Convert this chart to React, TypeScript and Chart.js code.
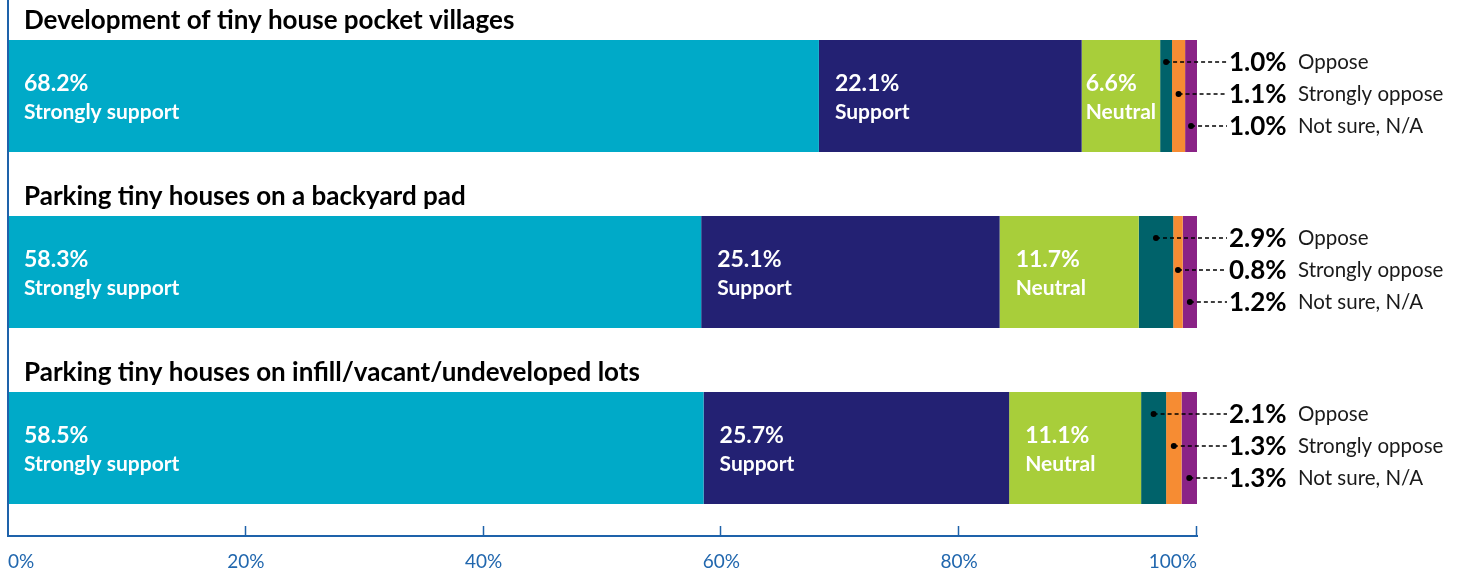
import React, { useEffect, useRef } from "react";
import { Chart, registerables } from "chart.js";

Chart.register(...registerables);

const categories = [
  "Development of tiny house pocket villages",
  "Parking tiny houses on a backyard pad",
  "Parking tiny houses on infill/vacant/undeveloped lots",
];
const seriesNames = ["Strongly support", "Support", "Neutral", "Oppose", "Strongly oppose", "Not sure, N/A"];
const stronglySupport = [68.2, 58.3, 58.5];
const support = [22.1, 25.1, 25.7];
const neutral = [6.6, 11.7, 11.1];
const oppose = [1.0, 2.9, 2.1];
const stronglyOppose = [1.1, 0.8, 1.3];
const notSure = [1.0, 1.2, 1.3];
const xTicks = [0, 20, 40, 60, 80, 100];

const seriesColors = ["#00AAC8", "#232173", "#A8CE3A", "#00626A", "#F68C33", "#8A2386"];
const AXIS = "#1E62AA";
const FONT = "Lato, 'Noto Sans', sans-serif";

const fmt = (v: number) => v.toFixed(1) + "%";

const labelsPlugin = {
  id: "customLabels",
  afterDatasetsDraw(chart: any) {
    const ctx = chart.ctx;
    const area = chart.chartArea;
    const metas = chart.data.datasets.map((_: any, i: number) => chart.getDatasetMeta(i));
    ctx.save();
    // left axis line
    ctx.strokeStyle = AXIS;
    ctx.lineWidth = 2;
    ctx.beginPath();
    ctx.moveTo(area.left, 0);
    ctx.lineTo(area.left, area.bottom);
    ctx.stroke();
    // x tick marks pointing up
    const xs = chart.scales.x;
    ctx.lineWidth = 1.5;
    xTicks.forEach((t) => {
      if (t === 0) return;
      const px = Math.round(xs.getPixelForValue(t)) - 0.5;
      ctx.beginPath();
      ctx.moveTo(px, area.bottom);
      ctx.lineTo(px, area.bottom - 10);
      ctx.stroke();
    });

    categories.forEach((cat, ci) => {
      const first = metas[0].data[ci];
      const top = first.y - first.height / 2;
      // title
      ctx.fillStyle = "#000";
      ctx.font = `bold 26px ${FONT}`;
      ctx.textAlign = "left";
      ctx.textBaseline = "middle";
      ctx.fillText(cat, area.left + 16, top - 19);

      // inside labels (first 3 series)
      for (let s = 0; s < 3; s++) {
        const el = metas[s].data[ci];
        const left = Math.min(el.x, el.base);
        const w = Math.abs(el.x - el.base);
        const val = chart.data.datasets[s].data[ci];
        ctx.font = `bold 21px ${FONT}`;
        const tw = Math.max(ctx.measureText(seriesNames[s]).width, 60);
        const off = Math.min(16, Math.max(4, (w - tw) / 2));
        ctx.fillStyle = "#fff";
        ctx.font = `bold 23px ${FONT}`;
        ctx.fillText(fmt(val), left + off, top + 44);
        ctx.font = `bold 21px ${FONT}`;
        ctx.fillText(seriesNames[s], left + off, top + 72);
      }

      // callouts (last 3 series)
      for (let s = 3; s < 6; s++) {
        const el = metas[s].data[ci];
        const cx = (el.x + el.base) / 2;
        const y = top + 22 + (s - 3) * 32;
        const endX = area.right + 30;
        ctx.strokeStyle = "#000";
        ctx.lineWidth = 1.3;
        ctx.setLineDash([4, 3]);
        ctx.beginPath();
        ctx.moveTo(cx, y);
        ctx.lineTo(endX, y);
        ctx.stroke();
        ctx.setLineDash([]);
        ctx.fillStyle = "#000";
        ctx.beginPath();
        ctx.arc(cx, y, 3, 0, Math.PI * 2);
        ctx.fill();
        const val = chart.data.datasets[s].data[ci];
        ctx.font = `bold 26px ${FONT}`;
        ctx.fillText(fmt(val), endX + 2, y + 1);
        ctx.font = `20.5px ${FONT}`;
        ctx.fillStyle = "#1a1a1a";
        ctx.fillText(seriesNames[s], area.right + 101, y);
      }
    });
    ctx.restore();
  },
};

export default function App() {
  const ref = useRef<HTMLCanvasElement>(null);
  useEffect(() => {
    document.body.style.margin = "0";
    document.body.style.overflow = "hidden";
    const values = [stronglySupport, support, neutral, oppose, stronglyOppose, notSure];
    const chart = new Chart(ref.current!, {
      type: "bar",
      data: {
        labels: categories,
        datasets: values.map((d, i) => ({
          label: seriesNames[i],
          data: d,
          backgroundColor: seriesColors[i],
          borderWidth: 0,
          barPercentage: 112 / 176,
          categoryPercentage: 1,
        })),
      },
      options: {
        indexAxis: "y",
        animation: false,
        responsive: false,
        layout: { padding: { left: 8, top: 8, right: 264, bottom: 1 } },
        plugins: { legend: { display: false }, tooltip: { enabled: false } },
        scales: {
          x: {
            stacked: true,
            min: 0,
            max: 100,
            afterBuildTicks: (axis: any) => {
              axis.ticks = xTicks.map((v) => ({ value: v }));
            },
            afterFit: (axis: any) => {
              axis.paddingLeft = 0;
              axis.paddingRight = 0;
              axis.height = 36;
            },
            ticks: {
              callback: (v: any) => v + "%",
              align: "inner",
              color: "#2167AE",
              font: { family: FONT, size: 19 },
              padding: 14,
              maxRotation: 0,
            },
            grid: { display: false, drawTicks: false },
            border: { display: true, color: AXIS, width: 2 },
          },
          y: { stacked: true, display: false },
        },
      } as any,
      plugins: [labelsPlugin],
    });
    return () => chart.destroy();
  }, []);
  return (
    <div style={{ width: 1461, height: 573 }}>
      <canvas ref={ref} width={1461} height={573} />
    </div>
  );
}
